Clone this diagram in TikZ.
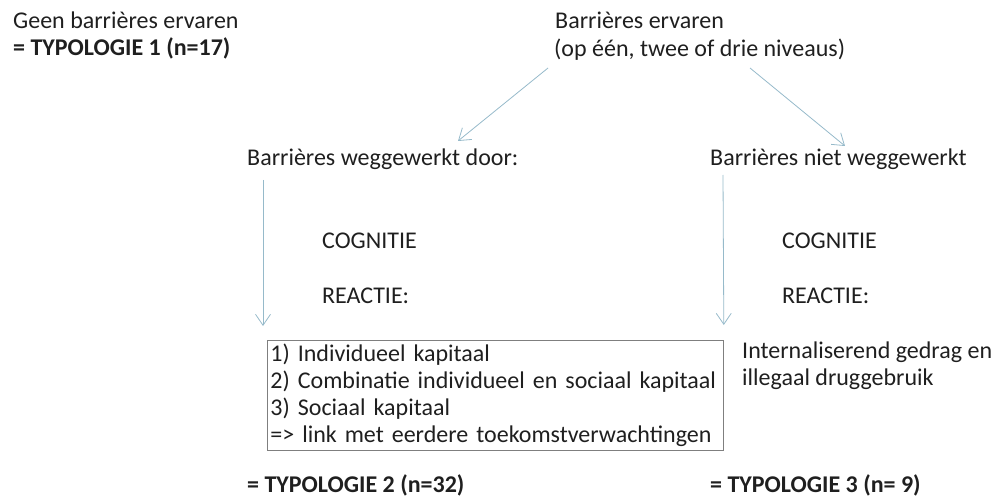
\documentclass[tikz,border=0pt]{standalone}
\usepackage{fontspec}
\setmainfont{Carlito}
\usetikzlibrary{arrows.meta}
\definecolor{arrowblue}{HTML}{96BACA}
\definecolor{boxgray}{HTML}{7F7F7F}
\definecolor{inkgray}{HTML}{1F1F1F}
\tikzset{
  plaintext/.style={
    anchor=base west,
    inner sep=0pt,
    text=inkgray,
    font=\fontsize{24}{27}\selectfont
  },
  typology/.style={plaintext,font=\fontsize{24}{27}\selectfont\bfseries},
  flow/.style={-{Straight Barb[length=11pt,width=15pt]},line width=0.8pt,draw=arrowblue},
  outcomebox/.style={
    draw=boxgray,
    line width=0.8pt,
    anchor=north west,
    align=left,
    text width=450pt,
    inner xsep=3pt,
    inner ysep=0pt,
    minimum height=110pt,
    text=inkgray,
    font=\fontsize{24}{27}\selectfont
  }
}

\begin{document}
\begin{tikzpicture}[x=1pt,y=-1pt]
  \useasboundingbox (0,0) rectangle (995,497);
  % top row
  \node[plaintext] (geen) at (13,29) {Geen barrières ervaren};
  \node[typology] (typ1) at (13,56) {= TYPOLOGIE 1 (n=17)};
  \node[plaintext] (ervaren) at (555,29) {Barrières ervaren};
  \node[plaintext] (niveaus) at (554,57) {(op één, twee of drie niveaus)};
  % two branches
  \node[plaintext] (wegdoor) at (247,166) {Barrières weggewerkt door:};
  \node[plaintext] (nietweg) at (710,166) {Barrières niet weggewerkt};
  \node[plaintext] (cogL) at (322,248) {COGNITIE};
  \node[plaintext] (reacL) at (322,303) {REACTIE:};
  \node[plaintext] (cogR) at (782,248) {COGNITIE};
  \node[plaintext] (reacR) at (782,303) {REACTIE:};
  \node[outcomebox] (kapitaal) at (267,340) {1) Individueel kapitaal\\2) Combinatie individueel en sociaal kapitaal\\3) Sociaal kapitaal\\=> link met eerdere toekomstverwachtingen};
  \node[plaintext] (intern) at (742,358) {Internaliserend gedrag en};
  \node[plaintext] (illegaal) at (742,385) {illegaal druggebruik};
  \node[typology] (typ2) at (247,492) {= TYPOLOGIE 2 (n=32)};
  \node[typology] (typ3) at (710,492) {= TYPOLOGIE 3 (n= 9)};
  % connectors
  \draw[flow] ([xshift=-6pt,yshift=-11pt]niveaus.base west) -- ([xshift=211pt,yshift=25pt]wegdoor.base west);
  \draw[flow] ([xshift=196pt,yshift=-11pt]niveaus.base west) -- ([xshift=135pt,yshift=20pt]nietweg.base west);
  \draw[flow] ([xshift=16pt,yshift=-14pt]wegdoor.base west) -- ([xshift=-4pt,yshift=14pt]kapitaal.north west);
  \draw[flow] ([xshift=13pt,yshift=-9pt]nietweg.base west) -- ([yshift=15pt]kapitaal.north east);
\end{tikzpicture}
\end{document}
